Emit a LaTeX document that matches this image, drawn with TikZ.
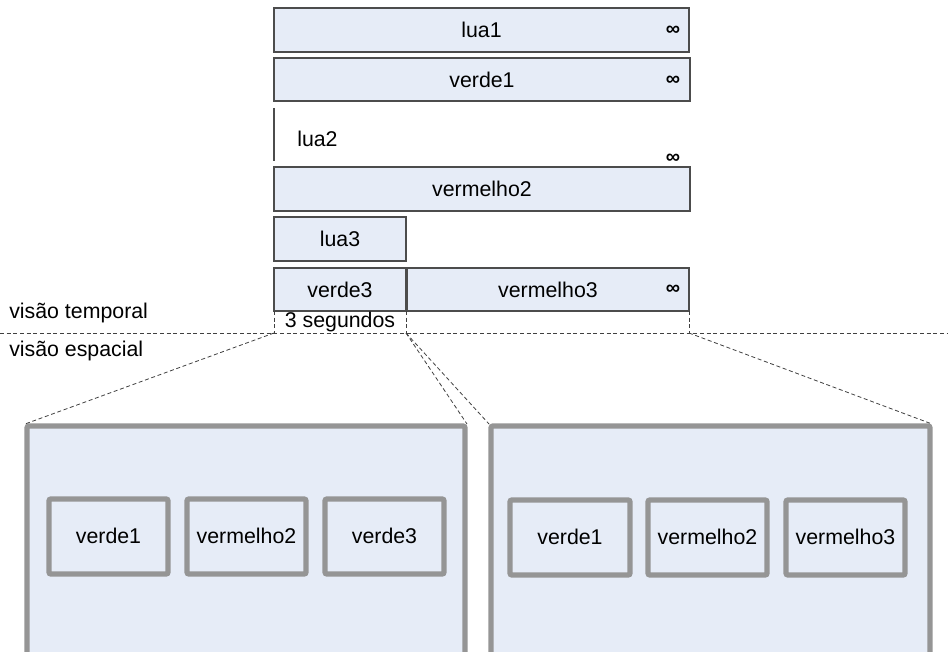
\documentclass[tikz,border=0pt]{standalone}
\usepackage{fontspec}
\setmainfont{Liberation Sans}
\begin{document}
\begin{tikzpicture}[x=0.75pt,y=-0.75pt,
  tbox/.style={draw=black!70,fill=boxfill,line width=0.9pt,inner sep=0pt},
  bigbox/.style={draw=frame,fill=boxfill,line width=4pt,rounded corners=1.5pt},
  smallbox/.style={draw=frame,fill=boxfill,line width=4pt,rounded corners=1.5pt},
  lbl/.style={font=\fontsize{16}{18}\selectfont,inner sep=0pt},
  inf/.style={font=\fontsize{15}{16}\selectfont\bfseries,inner sep=0pt},
  dsh/.style={dashed,draw=black!75,line width=0.6pt,dash pattern=on 3pt off 2pt}
]
\definecolor{boxfill}{HTML}{E6ECF7}
\definecolor{frame}{HTML}{959595}
\useasboundingbox (0,0) rectangle (948,652);

% timeline boxes
\draw[tbox] (274,8) rectangle (689,52);
\node[lbl] (lua1) at (481.5,30) {lua1};
\node[inf] (inf1) at (673,31) {∞};
\draw[tbox] (274,58) rectangle (690,101);
\node[lbl] (verde1t) at (482,80) {verde1};
\node[inf] (inf2) at (673,81) {∞};
\draw[black!70,line width=0.9pt] (274,108) -- (274,161);
\node[lbl,anchor=west] (lua2) at (297,139) {lua2};
\node[inf] (inf3) at (673,159) {∞};
\draw[tbox] (274,167) rectangle (690,211);
\node[lbl] (verm2t) at (482,189) {vermelho2};
\draw[tbox] (274,217) rectangle (406,261);
\node[lbl] (lua3) at (340,239) {lua3};
\draw[tbox] (274,268) rectangle (406,311);
\node[lbl] (verde3t) at (340,289.5) {verde3};
\draw[tbox] (407,268) rectangle (689,311);
\node[lbl] (verm3t) at (548,289.5) {vermelho3};
\node[inf] (inf4) at (673,290) {∞};

% time markers
\coordinate (a) at (274,333);
\coordinate (b) at (406,333);
\coordinate (c) at (689,333);
\draw[dsh] (274,311) -- (a);
\draw[dsh] (406,311) -- (b);
\draw[dsh] (689,311) -- (c);
\node[lbl] (seg) at (340,322) {3 segundos};

% separator
\coordinate (sepL) at (0,333);
\coordinate (sepR) at (948,333);
\draw[dsh] (sepL) -- (sepR);
\node[lbl,anchor=west] (vt) at (9,313) {visão temporal};
\node[lbl,anchor=west] (ve) at (9,351) {visão espacial};

% spatial boxes
\draw[bigbox] (27,426) rectangle (465,660);
\draw[bigbox] (491,426) rectangle (930,660);
\coordinate (L1) at (25,424);
\coordinate (L2) at (467,424);
\coordinate (R1) at (489,424);
\coordinate (R2) at (932,424);
\draw[dsh] (a) -- (L1);
\draw[dsh] (b) -- (L2);
\draw[dsh] (b) -- (R1);
\draw[dsh] (c) -- (R2);

\draw[smallbox] (49,499) rectangle (168,574);
\node[lbl] (s1) at (108.5,536) {verde1};
\draw[smallbox] (187,499) rectangle (306,574);
\node[lbl] (s2) at (246.5,536) {vermelho2};
\draw[smallbox] (325,499) rectangle (444,574);
\node[lbl] (s3) at (384.5,536) {verde3};

\draw[smallbox] (510,500) rectangle (630,575);
\node[lbl] (r1) at (570,537) {verde1};
\draw[smallbox] (648,500) rectangle (767,575);
\node[lbl] (r2) at (707.5,537) {vermelho2};
\draw[smallbox] (786,500) rectangle (905,575);
\node[lbl] (r3) at (845.5,537) {vermelho3};
\end{tikzpicture}
\end{document}
